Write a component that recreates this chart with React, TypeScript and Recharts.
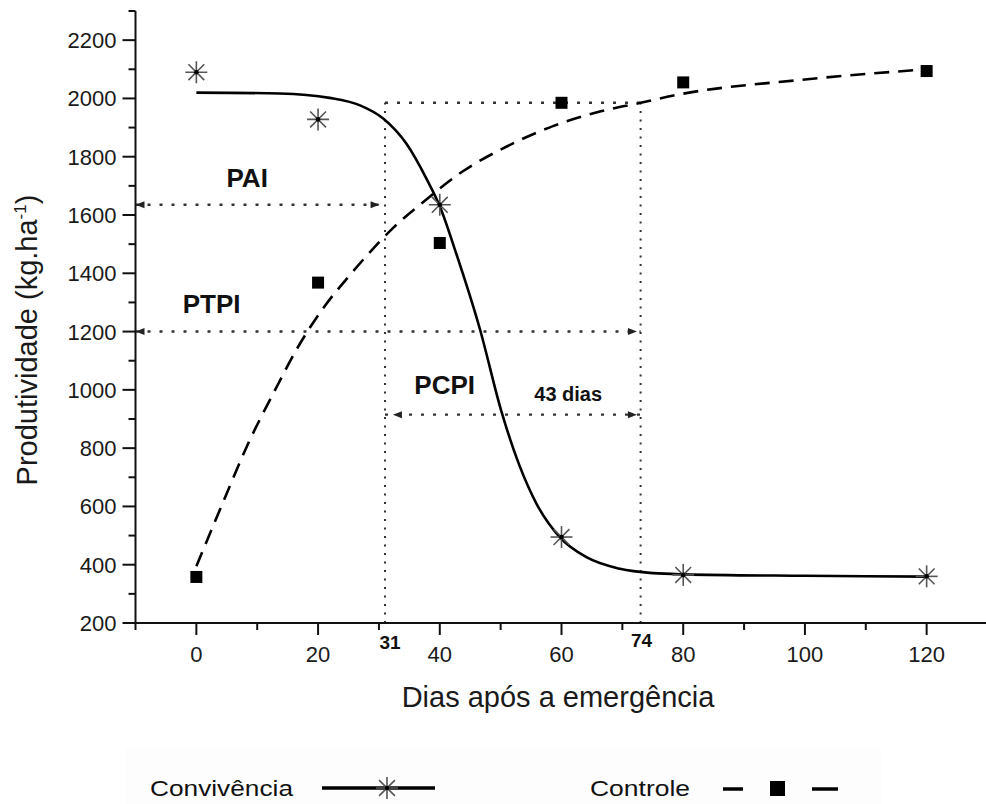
import React from 'react';
import { ComposedChart, Line, Scatter, XAxis, YAxis, ReferenceLine, ReferenceDot, Legend } from 'recharts';

// measured points
const convivenciaDias = [0, 20, 40, 60, 80, 120];
const convivenciaProd = [2090, 1928, 1635, 495, 365, 360];
const controleDias = [0, 20, 40, 60, 80, 120];
const controleProd = [358, 1368, 1504, 1985, 2055, 2094];

// fitted curves
const convivenciaAjusteDias = [0, 13.7, 21.9, 26.8, 30.7, 34.5, 37.8, 40, 42.7, 46.6, 50.1, 53.1, 55.9, 59.7, 64.1, 69.6, 75.1, 80, 100, 120];
const convivenciaAjusteProd = [2020, 2017, 2002, 1977, 1931, 1845, 1725, 1630, 1468, 1208, 928, 740, 609, 495, 426, 386, 371, 367, 362, 359];
const controleAjusteDias = [0, 4.4, 8.5, 12.9, 16.7, 20.8, 25.2, 28.8, 32.3, 37.3, 43.8, 51, 58.6, 66.3, 73, 78.4, 100, 120];
const controleAjusteProd = [395, 615, 815, 998, 1147, 1279, 1393, 1479, 1555, 1645, 1750, 1835, 1905, 1955, 1985, 2010, 2065, 2100];

// axis ticks
const xTicks = [-10, 0, 10, 20, 30, 40, 50, 60, 70, 80, 90, 100, 110, 120, 130];
const xLabelTicks = [0, 20, 40, 60, 80, 100, 120];
const yTicks = [200, 300, 400, 500, 600, 700, 800, 900, 1000, 1100, 1200, 1300, 1400, 1500, 1600, 1700, 1800, 1900, 2000, 2100, 2200, 2300];
const yLabelTicks = [200, 400, 600, 800, 1000, 1200, 1400, 1600, 1800, 2000, 2200];

// annotation values
const paiY = 1635;
const ptpiY = 1200;
const pcpiY = 915;
const topY = 1985;
const inicioPCPI = 31;
const fimPCPI = 73;
const xMin = -10;

const FONT = "'Liberation Sans', Arial, Helvetica, sans-serif";

const conv = convivenciaDias.map((x, i) => ({ x, y: convivenciaProd[i] }));
const ctrl = controleDias.map((x, i) => ({ x, y: controleProd[i] }));
const convFit = convivenciaAjusteDias.map((x, i) => ({ x, y: convivenciaAjusteProd[i] }));
const ctrlFit = controleAjusteDias.map((x, i) => ({ x, y: controleAjusteProd[i] }));

const StarShape = (props: any) => {
  const { cx, cy } = props;
  if (cx == null || cy == null) return null;
  const r = 11;
  const d = r * 0.72;
  return (
    <g stroke="#555" strokeWidth={1.6}>
      <line x1={cx - r} y1={cy} x2={cx + r} y2={cy} />
      <line x1={cx} y1={cy - r} x2={cx} y2={cy + r} />
      <line x1={cx - d} y1={cy - d} x2={cx + d} y2={cy + d} />
      <line x1={cx - d} y1={cy + d} x2={cx + d} y2={cy - d} />
      <circle cx={cx} cy={cy} r={2.3} fill="#000" stroke="none" />
    </g>
  );
};

const SquareShape = (props: any) => {
  const { cx, cy } = props;
  if (cx == null || cy == null) return null;
  return <rect x={cx - 6} y={cy - 6} width={12} height={12} fill="#000" />;
};

const XTick = (props: any) => {
  const { x, y, payload } = props;
  const v = payload.value;
  const major = xLabelTicks.includes(v);
  return (
    <g>
      <line x1={x} y1={y} x2={x} y2={y + (major ? 12 : 7)} stroke="#111" strokeWidth={2} />
      {major && (
        <text x={x} y={y + 39} textAnchor="middle" fontSize={22} fill="#1a1a1a" fontFamily={FONT}>
          {v}
        </text>
      )}
    </g>
  );
};

const YTick = (props: any) => {
  const { x, y, payload } = props;
  const v = payload.value;
  const major = yLabelTicks.includes(v);
  return (
    <g>
      <line x1={x} y1={y} x2={x - (major ? 13 : 7)} y2={y} stroke="#111" strokeWidth={2} />
      {major && (
        <text x={x - 19} y={y + 8} textAnchor="end" fontSize={22} fill="#1a1a1a" fontFamily={FONT}>
          {v}
        </text>
      )}
    </g>
  );
};

const XTitle = () => (
  <text x={558} y={707} textAnchor="middle" fontSize={29} fill="#1a1a1a" fontFamily={FONT}>
    Dias após a emergência
  </text>
);

const YTitle = () => (
  <text x={37} y={340} transform="rotate(-90, 37, 340)" textAnchor="middle" fontSize={29} fill="#1a1a1a" fontFamily={FONT}>
    Produtividade (kg.ha<tspan dy={-11} fontSize={17}>-1</tspan>
    <tspan dy={11}>)</tspan>
  </text>
);

const arrowShape = (dir: 'left' | 'right') => (props: any) => {
  const { cx, cy } = props;
  if (cx == null || cy == null) return null;
  const s = dir === 'right' ? -1 : 1;
  return <polygon points={`${cx},${cy} ${cx + s * 9},${cy - 3.5} ${cx + s * 9},${cy + 3.5}`} fill="#222" />;
};

const textShape = (txt: string, size: number, dx = 0, dy = 0) => (props: any) => {
  const { cx, cy } = props;
  if (cx == null || cy == null) return null;
  return (
    <text x={cx + dx} y={cy + dy} textAnchor="middle" dominantBaseline="central" fontSize={size} fontWeight="bold" fill="#111" fontFamily={FONT}>
      {txt}
    </text>
  );
};

const LegendContent = () => (
  <svg width={986} height={64} style={{ display: 'block' }}>
    <rect x={125} y={8} width={756} height={56} fill="#fdfdfd" />
    <text x={150} y={56} fontSize={22} textLength={143} lengthAdjust="spacingAndGlyphs" fill="#111" fontFamily="'Liberation Sans Narrow', 'Liberation Sans', Arial, sans-serif">
      Convivência
    </text>
    <line x1={322} x2={435} y1={48} y2={48} stroke="#000" strokeWidth={3.5} />
    <StarShape cx={387} cy={48} />
    <text x={590} y={56} fontSize={22} textLength={100} lengthAdjust="spacingAndGlyphs" fill="#111" fontFamily="'Liberation Sans Narrow', 'Liberation Sans', Arial, sans-serif">
      Controle
    </text>
    <line x1={723} x2={743} y1={49} y2={49} stroke="#000" strokeWidth={3.5} />
    <rect x={770} y={41} width={15} height={15} fill="#000" />
    <line x1={812} x2={838} y1={49} y2={49} stroke="#000" strokeWidth={3.5} />
  </svg>
);

const hDot = { stroke: '#333', strokeWidth: 2.4, strokeDasharray: '3 9' };
const vDot = { stroke: '#333', strokeWidth: 2, strokeDasharray: '2 6.5' };

export default function App() {
  return (
    <div style={{ position: 'absolute', left: 0, top: 0, width: 986, height: 804, overflow: 'hidden', background: '#fff' }}>
      <ComposedChart width={990} height={804} margin={{ top: 11, right: 2.5, left: 55.5, bottom: 81 }}>
        <XAxis
          dataKey="x"
          type="number"
          domain={[-10, 130]}
          ticks={xTicks}
          interval={0}
          tick={<XTick />}
          tickLine={false}
          tickSize={0}
          tickMargin={0}
          axisLine={{ stroke: '#111', strokeWidth: 2 }}
          height={100}
          allowDataOverflow
          label={<XTitle />}
        />
        <YAxis
          type="number"
          domain={[200, 2300]}
          ticks={yTicks}
          interval={0}
          tick={<YTick />}
          tickLine={false}
          tickSize={0}
          tickMargin={0}
          axisLine={{ stroke: '#111', strokeWidth: 2 }}
          width={80}
          allowDataOverflow
          label={<YTitle />}
        />

        <ReferenceLine segment={[{ x: xMin, y: paiY }, { x: inicioPCPI, y: paiY }]} {...hDot} />
        <ReferenceLine segment={[{ x: xMin, y: ptpiY }, { x: fimPCPI, y: ptpiY }]} {...hDot} />
        <ReferenceLine segment={[{ x: inicioPCPI, y: pcpiY }, { x: fimPCPI, y: pcpiY }]} {...hDot} />
        <ReferenceLine segment={[{ x: inicioPCPI, y: topY }, { x: fimPCPI, y: topY }]} {...hDot} />
        <ReferenceLine segment={[{ x: inicioPCPI, y: 200 }, { x: inicioPCPI, y: topY }]} {...vDot} />
        <ReferenceLine segment={[{ x: fimPCPI, y: 200 }, { x: fimPCPI, y: topY }]} {...vDot} />

        <ReferenceDot x={xMin} y={paiY} r={0} shape={arrowShape('left')} />
        <ReferenceDot x={30.1} y={paiY} r={0} shape={arrowShape('right')} />
        <ReferenceDot x={xMin} y={ptpiY} r={0} shape={arrowShape('left')} />
        <ReferenceDot x={72.4} y={ptpiY} r={0} shape={arrowShape('right')} />
        <ReferenceDot x={32.3} y={pcpiY} r={0} shape={arrowShape('left')} />
        <ReferenceDot x={72.4} y={pcpiY} r={0} shape={arrowShape('right')} />

        <ReferenceDot x={8.35} y={1726} r={0} shape={textShape('PAI', 26)} />
        <ReferenceDot x={2.5} y={1296} r={0} shape={textShape('PTPI', 26)} />
        <ReferenceDot x={40.8} y={1018} r={0} shape={textShape('PCPI', 26)} />
        <ReferenceDot x={61.1} y={987} r={0} shape={textShape('43 dias', 20)} />
        <ReferenceDot x={inicioPCPI} y={200} r={0} ifOverflow="visible" shape={textShape('31', 19, 5, 19)} />
        <ReferenceDot x={fimPCPI} y={200} r={0} ifOverflow="visible" shape={textShape('74', 19, 1, 17)} />

        <Line data={convFit} dataKey="y" type="monotone" stroke="#000" strokeWidth={2.6} dot={false} activeDot={false} isAnimationActive={false} legendType="none" />
        <Line data={ctrlFit} dataKey="y" type="monotone" stroke="#000" strokeWidth={2.6} strokeDasharray="15 9" dot={false} activeDot={false} isAnimationActive={false} legendType="none" />
        <Scatter data={conv} dataKey="y" shape={StarShape} isAnimationActive={false} name="Convivência" />
        <Scatter data={ctrl} dataKey="y" shape={SquareShape} isAnimationActive={false} name="Controle" />

        <Legend
          layout="horizontal"
          verticalAlign="middle"
          align="center"
          content={<LegendContent />}
          wrapperStyle={{ top: 740, left: 0, width: 986, height: 64, margin: 0, padding: 0 }}
        />
      </ComposedChart>
    </div>
  );
}
